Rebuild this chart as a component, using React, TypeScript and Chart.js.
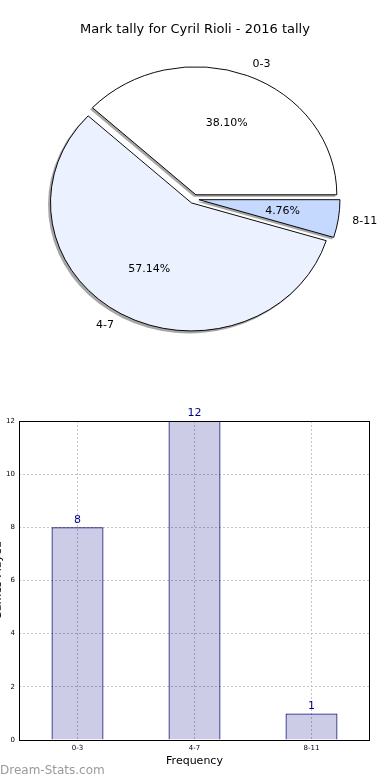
import React, { useEffect, useRef } from "react";
import { Chart, registerables, ArcElement } from "chart.js";

Chart.register(...registerables);

// Exploded arc: translate each slice outward without enlarging its radius
const EXPLODE = 5;
const origArcDraw = (ArcElement as any).prototype.draw;
(ArcElement as any).prototype.draw = function (ctx: CanvasRenderingContext2D) {
  const mid = (this.startAngle + this.endAngle) / 2;
  ctx.save();
  ctx.translate(Math.cos(mid) * EXPLODE, Math.sin(mid) * EXPLODE);
  origArcDraw.call(this, ctx);
  ctx.restore();
};

const TITLE = "Mark tally for Cyril Rioli - 2016 tally";
const categories = ["0-3", "4-7", "8-11"];
const tallyValues = [8, 12, 1];
const pieColors = ["#ffffff", "#ebf1fe", "#c5d9fe"];
const yTicksMax = 12;
const yTicksStep = 2;
const xAxisTitle = "Frequency";
const yAxisTitle = "Games Played";
const watermark = "Dream-Stats.com";

const FONT = "DejaVu Sans, sans-serif";
const SY = 128 / 141;
const PIE_R = 141;

function usePie(ref: React.RefObject<HTMLCanvasElement>) {
  useEffect(() => {
    if (!ref.current) return;
    // Chart.js goes clockwise from 3 o'clock; matplotlib goes counter-clockwise, so reverse order
    const order = [2, 1, 0];
    const labels = order.map((i) => categories[i]);
    const values = order.map((i) => tallyValues[i]);
    const colors = order.map((i) => pieColors[i]);
    const total = tallyValues.reduce((a, b) => a + b, 0);

    const ellipsePlugin = {
      id: "ellipse",
      beforeDatasetsDraw(chart: any) {
        const ctx = chart.ctx;
        const meta = chart.getDatasetMeta(0);
        const a0 = meta.data[0];
        const cx = a0.x, cy = a0.y;
        ctx.save();
        ctx.translate(cx, cy);
        ctx.scale(1, SY);
        ctx.translate(-cx, -cy);
        // shadows
        meta.data.forEach((arc: any) => {
          const p = arc.getProps(["x", "y", "startAngle", "endAngle", "outerRadius"], true);
          const mid = (p.startAngle + p.endAngle) / 2;
          const ax = p.x + Math.cos(mid) * EXPLODE - 2;
          const ay = p.y + Math.sin(mid) * EXPLODE + 2 / SY;
          ctx.beginPath();
          ctx.moveTo(ax, ay);
          ctx.arc(ax, ay, p.outerRadius + 0.5, p.startAngle, p.endAngle);
          ctx.closePath();
          ctx.fillStyle = "rgba(77,77,77,0.5)";
          ctx.fill();
        });
      },
      afterDatasetsDraw(chart: any) {
        chart.ctx.restore();
      },
      afterDraw(chart: any) {
        const ctx = chart.ctx;
        const meta = chart.getDatasetMeta(0);
        ctx.save();
        ctx.fillStyle = "#000";
        ctx.font = `13px ${FONT}`;
        ctx.textAlign = "center";
        ctx.textBaseline = "middle";
        ctx.fillText(TITLE, 195, 30);
        ctx.font = `11px ${FONT}`;
        meta.data.forEach((arc: any, i: number) => {
          const p = arc.getProps(["x", "y", "startAngle", "endAngle", "outerRadius"], true);
          const mid = (p.startAngle + p.endAngle) / 2;
          const c = Math.cos(mid), s = Math.sin(mid);
          const ax = p.x + c * EXPLODE;
          const ay = p.y + s * EXPLODE * SY;
          const R = p.outerRadius;
          const pct = ((values[i] / total) * 100).toFixed(2) + "%";
          ctx.textAlign = "center";
          ctx.fillText(pct, ax + 0.6 * R * c, ay + 0.6 * R * s * SY);
          ctx.textAlign = c > 0 ? "left" : "right";
          ctx.fillText(labels[i], ax + 1.1 * R * c, ay + 1.1 * R * s * SY);
        });
        ctx.restore();
      },
    };

    const chart = new Chart(ref.current, {
      type: "pie",
      data: {
        labels,
        datasets: [
          {
            data: values,
            backgroundColor: colors,
            borderColor: "#000",
            borderWidth: 1,
            offset: 0,
            hoverOffset: 0,
            borderJoinStyle: "miter",
          } as any,
        ],
      },
      options: {
        animation: false,
        responsive: false,
        rotation: 90,
        radius: PIE_R,
        layout: { padding: { left: 20, right: 22, top: 50, bottom: 42 } },
        plugins: { legend: { display: false }, tooltip: { enabled: false }, title: { display: false } },
        events: [],
      } as any,
      plugins: [ellipsePlugin],
    });
    return () => chart.destroy();
  }, []);
}

function useBar(ref: React.RefObject<HTMLCanvasElement>) {
  useEffect(() => {
    if (!ref.current) return;
    const decor = {
      id: "decor",
      afterDatasetsDraw(chart: any) {
        const ctx = chart.ctx;
        const meta = chart.getDatasetMeta(0);
        ctx.save();
        ctx.fillStyle = "#00008b";
        ctx.font = `11px ${FONT}`;
        ctx.textAlign = "center";
        ctx.textBaseline = "bottom";
        meta.data.forEach((bar: any, i: number) => {
          ctx.fillText(String(tallyValues[i]), bar.x, bar.y - 2);
        });
        ctx.restore();
      },
      afterDraw(chart: any) {
        const ctx = chart.ctx;
        const a = chart.chartArea;
        ctx.save();
        ctx.strokeStyle = "#000";
        ctx.lineWidth = 1;
        ctx.strokeRect(Math.round(a.left) + 0.5, Math.round(a.top) + 0.5, Math.round(a.right - a.left) - 1, Math.round(a.bottom - a.top));
        ctx.fillStyle = "#000";
        ctx.font = `11px ${FONT}`;
        ctx.textAlign = "center";
        ctx.textBaseline = "middle";
        ctx.fillText(xAxisTitle, (a.left + a.right) / 2, 371);
        ctx.save();
        ctx.translate(0.5, (a.top + a.bottom) / 2);
        ctx.rotate(-Math.PI / 2);
        ctx.textBaseline = "alphabetic";
        ctx.fillText(yAxisTitle, 0, 0);
        ctx.restore();
        ctx.fillStyle = "#9a9a9a";
        ctx.font = `12px ${FONT}`;
        ctx.textAlign = "left";
        ctx.fillText(watermark, 0, 381);
        ctx.restore();
      },
    };
    const chart = new Chart(ref.current, {
      type: "bar",
      data: {
        labels: categories,
        datasets: [
          {
            data: tallyValues,
            backgroundColor: "rgba(0,0,128,0.2)",
            borderColor: "#000070",
            borderWidth: 1,
            barPercentage: 0.444,
            categoryPercentage: 1,
          },
        ],
      },
      options: {
        animation: false,
        responsive: false,
        events: [],
        layout: { padding: { left: 0, right: 20, top: 31, bottom: 0 } },
        plugins: { legend: { display: false }, tooltip: { enabled: false } },
        scales: {
          x: {
            grid: { offset: false, color: "#c4c4c4", drawTicks: false },
            border: { display: false, dash: [2, 2] },
            ticks: { font: { size: 7, family: FONT }, color: "#000", padding: 4 },
            afterFit: (s: any) => { s.height = 40; },
          },
          y: {
            min: 0,
            max: yTicksMax,
            grid: { color: "#c4c4c4", drawTicks: false },
            border: { display: false, dash: [2, 2] },
            ticks: { stepSize: yTicksStep, font: { size: 7, family: FONT }, color: "#000", padding: 4 },
            afterFit: (s: any) => { s.width = 19; },
          },
        },
      } as any,
      plugins: [decor],
    });
    return () => chart.destroy();
  }, []);
}

export default function App() {
  const pieRef = useRef<HTMLCanvasElement>(null);
  const barRef = useRef<HTMLCanvasElement>(null);
  usePie(pieRef);
  useBar(barRef);
  return (
    <div style={{ position: "absolute", left: 0, top: 0, width: 390, height: 780, background: "#fff" }}>
      <canvas ref={pieRef} width={390} height={390} style={{ position: "absolute", left: 0, top: 0, width: 390, height: 390 }} />
      <canvas ref={barRef} width={390} height={390} style={{ position: "absolute", left: 0, top: 390, width: 390, height: 390 }} />
    </div>
  );
}
